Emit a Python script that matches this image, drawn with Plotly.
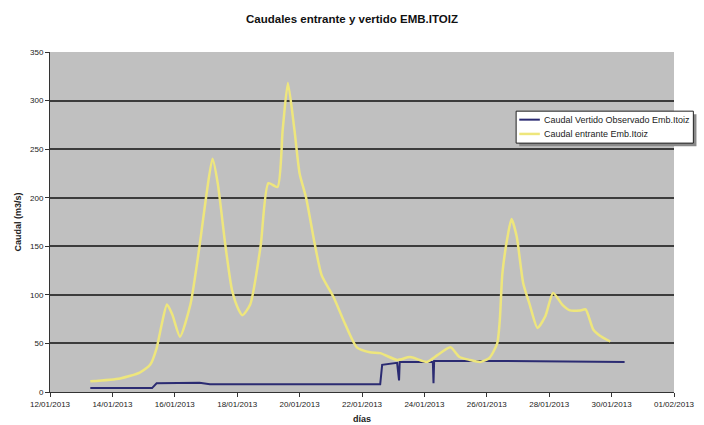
import plotly.graph_objects as go

# Inflow to the Itoiz reservoir (m3/s)
entrante_fechas = [
    "2013-01-13 07:00", "2013-01-14 06:00", "2013-01-14 21:00", "2013-01-15 05:00",
    "2013-01-15 10:00", "2013-01-15 14:00", "2013-01-15 18:00", "2013-01-15 22:00",
    "2013-01-16 04:00", "2013-01-16 12:00", "2013-01-16 19:00", "2013-01-17 00:00",
    "2013-01-17 05:00", "2013-01-17 09:00", "2013-01-17 15:00", "2013-01-17 20:00",
    "2013-01-18 01:00", "2013-01-18 04:00", "2013-01-18 10:00", "2013-01-18 18:00",
    "2013-01-19 00:00", "2013-01-19 07:00", "2013-01-19 11:00", "2013-01-19 15:00",
    "2013-01-19 20:00", "2013-01-20 00:00", "2013-01-20 05:00", "2013-01-20 12:00",
    "2013-01-20 17:00", "2013-01-21 02:00", "2013-01-21 11:00", "2013-01-21 20:00",
    "2013-01-22 06:00", "2013-01-22 14:00", "2013-01-23 03:00", "2013-01-23 13:00",
    "2013-01-24 02:00", "2013-01-24 10:00", "2013-01-24 20:00", "2013-01-25 03:00",
    "2013-01-25 11:00", "2013-01-25 19:00", "2013-01-26 02:00", "2013-01-26 08:00",
    "2013-01-26 10:00", "2013-01-26 12:00", "2013-01-26 16:00", "2013-01-26 19:00",
    "2013-01-26 23:00", "2013-01-27 04:00", "2013-01-27 09:00", "2013-01-27 15:00",
    "2013-01-27 21:00", "2013-01-28 03:00", "2013-01-28 10:00", "2013-01-28 16:00",
    "2013-01-29 00:00", "2013-01-29 04:00", "2013-01-29 10:00", "2013-01-29 15:00",
    "2013-01-29 23:00",
]
entrante_valores = [
    11, 14, 20, 28,
    45, 70, 90, 80,
    57, 90, 150, 200,
    240, 215, 150, 105,
    85, 79, 90, 150,
    215, 211, 270, 318,
    270, 225, 200, 150,
    120, 98, 70, 46,
    41, 40, 33, 36,
    31, 38, 46, 36,
    33, 31, 35, 50,
    74, 122, 160, 178,
    160, 112, 90, 66,
    78, 102, 90, 84,
    84, 85, 64, 58,
    52,
]

# Observed spill from the Itoiz reservoir (m3/s)
vertido_fechas = [
    "2013-01-13 07:00", "2013-01-15 06:30", "2013-01-15 10:00", "2013-01-16 19:00",
    "2013-01-17 03:00", "2013-01-20 00:00", "2013-01-22 14:00", "2013-01-22 15:30",
    "2013-01-23 03:00", "2013-01-23 04:30", "2013-01-23 05:00", "2013-01-24 06:30",
    "2013-01-24 07:00", "2013-01-24 07:30", "2013-01-25 19:00", "2013-01-30 10:00",
]
vertido_valores = [
    4, 4, 9, 9.5,
    8, 8, 8, 28,
    30, 12, 31, 31,
    9, 32, 32, 31,
]

titulo = "Caudales entrante y vertido EMB.ITOIZ"
nombre_vertido = "Caudal Vertido Observado Emb.Itoiz"
nombre_entrante = "Caudal entrante Emb.Itoiz"

color_vertido = "#2b2b72"
color_entrante = "#eee67c"

fig = go.Figure()
fig.add_trace(go.Scatter(
    x=vertido_fechas, y=vertido_valores, mode="lines", name=nombre_vertido,
    line=dict(color=color_vertido, width=2), showlegend=False,
))
fig.add_trace(go.Scatter(
    x=entrante_fechas, y=entrante_valores, mode="lines", name=nombre_entrante,
    line=dict(color=color_entrante, width=2.5, shape="spline", smoothing=0.6),
    showlegend=False,
))

# Compact boxed legend with a drop shadow, placed over the right edge of the plot
lx0, lx1, ly0, ly1 = 0.747, 1.031, 0.732, 0.826
sh_dx, sh_dy = 0.005, 0.009
fig.add_shape(type="rect", xref="paper", yref="paper",
              x0=lx0 + sh_dx, x1=lx1 + sh_dx, y0=ly0 - sh_dy, y1=ly1 - sh_dy,
              fillcolor="#8a8a8a", line=dict(width=0), layer="above")
fig.add_shape(type="rect", xref="paper", yref="paper",
              x0=lx0, x1=lx1, y0=ly0, y1=ly1,
              fillcolor="white", line=dict(color="#222222", width=1), layer="above")
entradas = [(nombre_vertido, color_vertido, 2, 0.801),
            (nombre_entrante, color_entrante, 2.5, 0.759)]
for texto, color, ancho, yy in entradas:
    fig.add_shape(type="line", xref="paper", yref="paper",
                  x0=lx0 + 0.005, x1=lx0 + 0.038, y0=yy, y1=yy,
                  line=dict(color=color, width=ancho), layer="above")
    fig.add_annotation(x=lx0 + 0.042, y=yy, xref="paper", yref="paper",
                       text=texto, showarrow=False, xanchor="left", yanchor="middle",
                       font=dict(size=9, color="#222222"))

fuente = "Liberation Sans, Arial, sans-serif"
fig.update_layout(
    width=704, height=425,
    margin=dict(l=50, r=30, t=52, b=33),
    paper_bgcolor="white",
    plot_bgcolor="#c0c0c0",
    font=dict(family=fuente, size=8, color="#222222"),
    title=dict(text="<b>" + titulo + "</b>", x=0.5, xanchor="center",
               y=0.955, yanchor="middle", font=dict(size=11.5, color="#111111")),
    showlegend=False,
    xaxis=dict(
        type="date",
        automargin=False,
        range=["2013-01-12", "2013-02-01"],
        tick0="2013-01-12", dtick=2 * 86400000,
        tickformat="%d/%m/%Y",
        showgrid=False, zeroline=False,
        showline=True, linecolor="#333333", linewidth=1,
        ticks="outside", ticklen=4, tickcolor="#333333",
        tickfont=dict(size=8),
        title=dict(text="<b>días</b>", font=dict(size=9), standoff=8),
    ),
    yaxis=dict(
        automargin=False,
        range=[0, 350], dtick=50,
        showgrid=True, gridcolor="#3c3c3c", gridwidth=1.5,
        zeroline=False,
        showline=True, linecolor="#333333", linewidth=1,
        ticks="outside", ticklen=4, tickcolor="#333333",
        tickfont=dict(size=8),
        title=dict(text="<b>Caudal (m3/s)</b>", font=dict(size=9), standoff=6),
    ),
)

fig.write_html("out.html")
